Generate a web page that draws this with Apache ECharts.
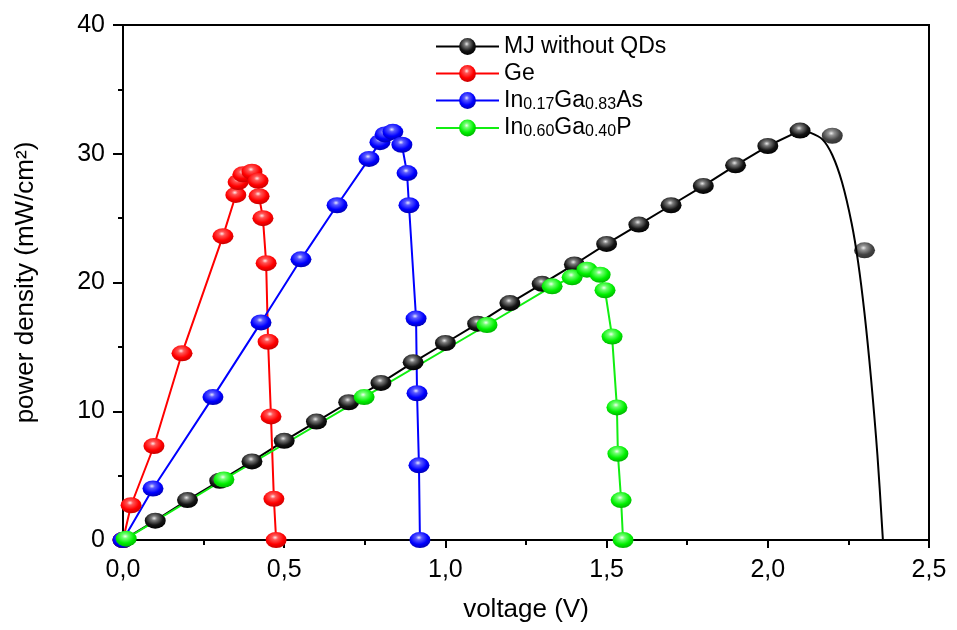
<!DOCTYPE html>
<html>
<head>
<meta charset="utf-8">
<script src="https://cdn.jsdelivr.net/npm/echarts@6/dist/echarts.min.js"></script>
<style>html,body{margin:0;padding:0;background:#fff;}#c{width:957px;height:630px;}</style>
</head>
<body>
<div id="c"></div>
<script>
// ---- data ----
var mjV = [0, 0.1, 0.2, 0.3, 0.4, 0.5, 0.6, 0.7, 0.8, 0.9, 1.0, 1.1, 1.2, 1.3, 1.4, 1.5, 1.6, 1.7, 1.8, 1.9, 2.0, 2.1];
var mjP = [0, 1.5, 3.1, 4.6, 6.1, 7.7, 9.2, 10.7, 12.2, 13.8, 15.3, 16.8, 18.4, 19.9, 21.4, 23.0, 24.5, 26.0, 27.5, 29.1, 30.6, 31.8];
var mjExtraV = [2.2, 2.3];
var mjExtraP = [31.4, 22.5];
var mjFitV = [2.1, 2.13, 2.17, 2.2, 2.23, 2.26, 2.28, 2.30, 2.32, 2.34, 2.357];
var mjFitP = [31.8, 31.65, 31.1, 29.9, 27.8, 24.6, 21.6, 17.6, 12.6, 6.6, 0];

var geV = [0, 0.025, 0.096, 0.183, 0.31, 0.35, 0.357, 0.372, 0.40, 0.419, 0.422, 0.434, 0.444, 0.45, 0.459, 0.468, 0.475];
var geP = [0, 2.7, 7.3, 14.5, 23.6, 26.8, 27.8, 28.4, 28.6, 27.9, 26.7, 25.0, 21.5, 15.4, 9.6, 3.2, 0];

var ingaasV = [0, 0.093, 0.279, 0.428, 0.552, 0.664, 0.763, 0.797, 0.813, 0.837, 0.865, 0.881, 0.887, 0.909, 0.912, 0.918, 0.921];
var ingaasP = [0, 4.0, 11.1, 16.9, 21.8, 26.0, 29.6, 30.9, 31.5, 31.7, 30.7, 28.5, 26.0, 17.2, 11.4, 5.8, 0];

var ingapV = [0.01, 0.313, 0.748, 1.129, 1.331, 1.393, 1.439, 1.48, 1.495, 1.517, 1.532, 1.535, 1.545, 1.551];
var ingapP = [0.1, 4.7, 11.1, 16.7, 19.7, 20.4, 21.0, 20.6, 19.4, 15.8, 10.3, 6.7, 3.1, 0];

var xTicks = ['0,0', '0,5', '1,0', '1,5', '2,0', '2,5'];
var seriesNames = ['MJ without QDs', 'Ge', 'InGaAs', 'InGaP'];
var legendLabels = {
  'MJ without QDs': '{n|MJ without QDs}',
  'Ge': '{n|Ge}',
  'InGaAs': '{n|In}{s|0.17}{n|Ga}{s|0.83}{n|As}',
  'InGaP': '{n|In}{s|0.60}{n|Ga}{s|0.40}{n|P}'
};

function pairs(v, p) { return v.map(function (x, i) { return [x, p[i]]; }); }
function ball(hi, mid, main, edge) {
  return { type: 'radial', x: 0.45, y: 0.35, r: 0.65,
    colorStops: [{offset: 0, color: hi}, {offset: 0.22, color: mid}, {offset: 0.65, color: main}, {offset: 1, color: edge}] };
}
var balls = {
  black: ball('#e8e8e8', '#7a7a7a', '#151515', '#000000'),
  red: ball('#ffe8e8', '#ff5555', '#ff0000', '#c80000'),
  blue: ball('#e6e6ff', '#5a5aff', '#0000ff', '#0000b4'),
  green: ball('#f0fff0', '#70ff70', '#00f000', '#00b400')
};
var SYM = [21, 16];
var FONT = 'Liberation Sans, Arial, Helvetica, sans-serif';

function lineSeries(name, data, lineColor, fill) {
  return {
    name: name, type: 'line', data: data, symbol: 'circle', symbolSize: SYM,
    lineStyle: { color: lineColor, width: 2 },
    itemStyle: { color: fill, borderWidth: 0 },
    emphasis: { disabled: true }, animation: false
  };
}

var chart = echarts.init(document.getElementById('c'), null, { renderer: 'canvas' });
chart.setOption({
  backgroundColor: '#fff',
  animation: false,
  grid: { left: 123, right: 28, top: 25, bottom: 90, show: true, borderColor: '#000', borderWidth: 2 },
  legend: {
    data: seriesNames,
    orient: 'vertical', left: 430, top: 30,
    itemWidth: 63, itemHeight: 21, itemGap: 4,
    formatter: function (n) { return legendLabels[n]; },
    textStyle: {
      fontFamily: FONT, color: '#000',
      rich: {
        n: { fontSize: 23, lineHeight: 24, fontFamily: FONT, color: '#000' },
        s: { fontSize: 16, lineHeight: 12, verticalAlign: 'bottom', fontFamily: FONT, color: '#000' }
      }
    }
  },
  xAxis: {
    type: 'value', min: 0, max: 2.5, interval: 0.5,
    name: 'voltage (V)', nameLocation: 'middle', nameGap: 57,
    nameTextStyle: { fontFamily: FONT, fontSize: 26, color: '#000' },
    axisLine: { onZero: false, lineStyle: { color: '#000', width: 2 } },
    axisTick: { inside: false, length: 8, lineStyle: { color: '#000', width: 2 } },
    minorTick: { show: true, splitNumber: 2, length: 5, lineStyle: { color: '#000', width: 2 } },
    splitLine: { show: false },
    axisLabel: {
      margin: 18, fontFamily: FONT, fontSize: 25, color: '#000',
      formatter: function (v) { return xTicks[Math.round(v / 0.5)]; }
    }
  },
  yAxis: {
    type: 'value', min: 0, max: 40, interval: 10,
    name: 'power density (mW/cm²)', nameLocation: 'middle', nameGap: 84, nameRotate: 90,
    nameTextStyle: { fontFamily: FONT, fontSize: 26, color: '#000' },
    axisLine: { onZero: false, lineStyle: { color: '#000', width: 2 } },
    axisTick: { inside: false, length: 10, lineStyle: { color: '#000', width: 2 } },
    minorTick: { show: true, splitNumber: 2, length: 5, lineStyle: { color: '#000', width: 2 } },
    splitLine: { show: false },
    axisLabel: { margin: 18, fontFamily: FONT, fontSize: 25, color: '#000' }
  },
  series: [
    lineSeries('MJ without QDs', pairs(mjV, mjP), '#000', balls.black),
    {
      name: 'mjFit', type: 'line', data: pairs(mjFitV, mjFitP), symbol: 'none', smooth: 0.35,
      lineStyle: { color: '#000', width: 2 }, emphasis: { disabled: true }, animation: false
    },
    {
      name: 'mjExtra', type: 'scatter', data: pairs(mjExtraV, mjExtraP), symbol: 'circle', symbolSize: SYM,
      itemStyle: { color: balls.black }, emphasis: { disabled: true }, animation: false
    },
    lineSeries('Ge', pairs(geV, geP), '#ff0000', balls.red),
    lineSeries('InGaAs', pairs(ingaasV, ingaasP), '#0000ff', balls.blue),
    lineSeries('InGaP', pairs(ingapV, ingapP), '#11ee11', balls.green)
  ]
});
</script>
</body>
</html>
